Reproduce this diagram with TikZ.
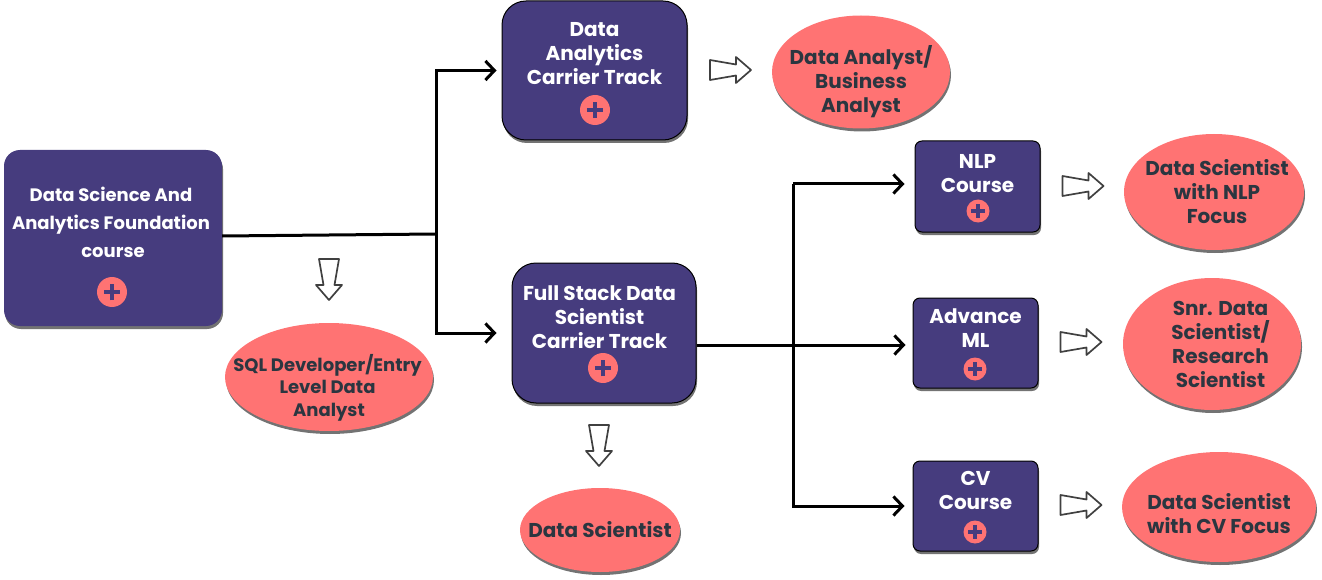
\documentclass[tikz,border=0pt]{standalone}
\usepackage{xcolor}
\usepackage{fontspec}
\setmainfont{Poppins}
\usepackage{tikz}
\usetikzlibrary{shapes.geometric,shadows,arrows.meta}

\definecolor{trackblue}{HTML}{463C7E}
\definecolor{rolecoral}{HTML}{FF7373}
\definecolor{roleink}{HTML}{2B3640}

\tikzset{
  softshadow/.style={drop shadow={shadow xshift=1pt,shadow yshift=-3pt,fill=black,opacity=.55}},
  bigbox/.style={rectangle,rounded corners=24pt,fill=trackblue,softshadow,text=white,align=center,
    font=\fontsize{20}{24}\selectfont\bfseries,inner sep=0pt},
  smallbox/.style={bigbox,rounded corners=7pt},
  role/.style={ellipse,fill=rolecoral,softshadow,text=roleink,align=center,
    font=\fontsize{20}{24}\selectfont\bfseries,inner xsep=-40pt,inner ysep=-10pt},
  plusbadge/.style={circle,fill=rolecoral,inner sep=0pt,path picture={
    \draw[trackblue,line width=3.5pt]
      ([xshift=-.55*#1]path picture bounding box.center) -- ([xshift=.55*#1]path picture bounding box.center)
      ([yshift=-.55*#1]path picture bounding box.center) -- ([yshift=.55*#1]path picture bounding box.center);}},
  hollowarrow/.pic={
    \draw[draw=black!75,line width=1.7pt,fill=white,line join=round]
      (-20.5,-10) -- (5.5,-5.5) -- (5.5,-13) -- (20.5,0) -- (5.5,13) -- (5.5,5.5) -- (-20.5,10) -- cycle;},
  conn/.style={line width=3pt,black},
  connarrow/.style={conn,-{Straight Barb[length=9pt,width=19pt,line width=3pt]},shorten >=#1},
}

\begin{document}
\begin{tikzpicture}[x=1pt,y=-1pt]
\useasboundingbox (0,0) rectangle (1322,580);
% track boxes
\node[bigbox,rounded corners=16pt,font=\fontsize{18}{28}\selectfont\bfseries,minimum width=218pt,minimum height=176pt] (foundation) at (113,238)
  {\hspace*{-4pt}Data Science And\\\hspace*{-4pt}Analytics Foundation\\course\\[4pt]~};
\node[bigbox,draw=black,line width=1pt,minimum width=185pt,minimum height=139pt] (analytics) at (594.5,70.5)
  {Data\\Analytics\\Carrier Track\\[10pt]~};
\node[bigbox,draw=black,line width=1pt,minimum width=184pt,minimum height=140pt] (fullstack) at (604,333)
  {\hspace*{-9pt}Full Stack Data\\\hspace*{-9pt}Scientist\\\hspace*{-9pt}Carrier Track\\[8pt]~};
\node[smallbox,draw=black,line width=1pt,minimum width=125pt,minimum height=91pt] (nlp) at (977.5,186.5)
  {NLP\\Course\\[3pt]~};
\node[smallbox,draw=black,line width=1pt,minimum width=125pt,minimum height=90pt] (advml) at (975.5,343)
  {Advance\\ML\\[5pt]~};
\node[smallbox,draw=black,line width=1pt,minimum width=125pt,minimum height=90pt] (cv) at (975.5,506)
  {CV\\Course\\[7pt]~};
%
\node[plusbadge=15pt,minimum size=30pt] (foundationplus) at (112,292) {};
\node[plusbadge=15pt,minimum size=30pt] (analyticsplus) at (595,110) {};
\node[plusbadge=15pt,minimum size=30pt] (fullstackplus) at (603,368) {};
\node[plusbadge=12pt,minimum size=23pt] (nlpplus) at (978,211) {};
\node[plusbadge=12pt,minimum size=23pt] (advmlplus) at (975,369) {};
\node[plusbadge=12pt,minimum size=23pt] (cvplus) at (975,532) {};
% roles
\node[role,minimum width=178pt,minimum height=113pt] (analyst) at (861,72)
  {Data Analyst/\\Business\\Analyst\\[-38pt]~};
\node[role,font=\fontsize{18}{22.5}\selectfont\bfseries,minimum width=208pt,minimum height=108pt] (sqldev) at (329,377)
  {\hspace*{-3pt}SQL Developer/Entry\\\hspace*{-3pt}Level Data\\Analyst\\[-38.5pt]~};
\node[role,minimum width=160pt,minimum height=84pt] (scientist) at (600,530) {Data Scientist};
\node[role,minimum width=180pt,minimum height=116pt] (nlprole) at (1214,192)
  {\hspace*{6pt}Data Scientist\\\hspace*{6pt}with NLP\\\hspace*{6pt}Focus};
\node[role,minimum width=178pt,minimum height=132pt] (snrrole) at (1212,344)
  {\hspace*{17pt}Snr. Data\\\hspace*{17pt}Scientist/\\\hspace*{17pt}Research\\\hspace*{17pt}Scientist};
\node[role,minimum width=194pt,minimum height=110pt] (cvrole) at (1219,507)
  {Data Scientist\\with CV Focus\\[-36pt]~};
% hollow arrows
\pic at (730.5,70) {hollowarrow};
\pic[rotate=-90] at (329,279.5) {hollowarrow};
\pic[rotate=-90] at (599,445.5) {hollowarrow};
\pic at (1083,186) {hollowarrow};
\pic at (1081,342) {hollowarrow};
\pic at (1081,505) {hollowarrow};
% connectors
\coordinate (firstsplit) at (436,234);
\coordinate (secondsplit) at (793,345);
\coordinate (secondtop) at (793,184);
\coordinate (secondbottom) at (793,508);
\draw[conn] (foundation.east |- 0,236) -- (firstsplit);
\draw[connarrow=5pt] (firstsplit) |- (analytics.west);
\draw[connarrow=15pt] (firstsplit) |- (fullstack.west);
\draw[conn] (fullstack.east |- secondsplit) -- (secondsplit);
\draw[conn] (secondtop) -- (secondbottom);
\draw[connarrow=10pt] (secondtop) -- (secondtop -| nlp.west);
\draw[connarrow=7pt] (secondsplit) -- (secondsplit -| advml.west);
\draw[connarrow=8pt] (secondbottom |- cv.west) -- (cv.west);
\end{tikzpicture}
\end{document}
